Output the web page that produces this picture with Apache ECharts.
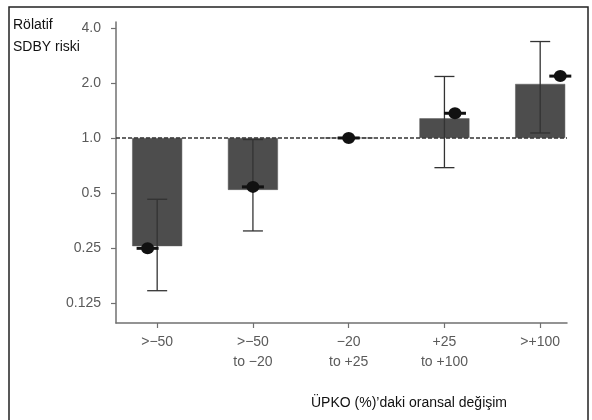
<!DOCTYPE html>
<html>
<head>
<meta charset="utf-8">
<script src="https://cdn.jsdelivr.net/npm/echarts@6/dist/echarts.min.js"></script>
<style>
html,body{margin:0;padding:0;background:#fff;}
#chart{width:592px;height:420px;}
</style>
</head>
<body>
<div id="chart"></div>
<script>
const categories = ['>−50', '>−50\nto −20', '−20\nto +25', '+25\nto +100', '>+100'];
const barValues = [0.256, 0.52, 1.0, 1.28, 1.975];
const markerValues = [0.249, 0.54, 1.0, 1.365, 2.18];
const markerShift = [-0.1, 0, 0, 0.11, 0.21];
const ciLow = [0.146, 0.31, null, 0.688, 1.065];
const ciHigh = [0.462, 0.98, null, 2.17, 3.37];
const yTickValues = [0.125, 0.25, 0.5, 1, 2, 4];
const yTickLabels = ['0.125', '0.25', '0.5', '1.0', '2.0', '4.0'];
const yTitle = 'Rölatif\nSDBY riski';
const xTitle = 'ÜPKO (%)’daki oransal değişim';

const idx = categories.map((c, i) => i);
const barData = barValues.map((v, i) => [i, v]);
const markerData = markerValues.map((v, i) => [i + markerShift[i], v]);
const ciData = [];
ciLow.forEach((lo, i) => { if (lo != null) ciData.push([i, lo, ciHigh[i]]); });

function yLabel(v) {
  let best = 0, bd = Infinity;
  yTickValues.forEach((t, i) => { const d = Math.abs(Math.log2(v) - Math.log2(t)); if (d < bd) { bd = d; best = i; } });
  return yTickLabels[best];
}

const chart = echarts.init(document.getElementById('chart'), null, {renderer: 'canvas'});
const labelFont = {color: '#5a5a5a', fontSize: 14, fontFamily: 'Liberation Sans, Arial, sans-serif'};
chart.setOption({
  animation: false,
  backgroundColor: '#fff',
  grid: {left: 116, right: 25, top: 22, bottom: 97, containLabel: false},
  xAxis: {
    type: 'value', min: -0.43, max: 4.28,
    splitLine: {show: false},
    axisLine: {show: true, onZero: false, lineStyle: {color: '#707070', width: 1.5}},
    axisTick: {show: true, length: 5, customValues: idx, lineStyle: {color: '#707070', width: 1.2}},
    axisLabel: Object.assign({
      customValues: idx, margin: 9, lineHeight: 20,
      formatter: v => categories[Math.round(v)]
    }, labelFont)
  },
  yAxis: {
    type: 'log', logBase: 2, min: 0.0972, max: 4.31,
    splitLine: {show: false},
    axisLine: {show: true, onZero: false, lineStyle: {color: '#707070', width: 1.5}},
    axisTick: {show: true, length: 5, customValues: yTickValues, lineStyle: {color: '#707070', width: 1.2}},
    axisLabel: Object.assign({customValues: yTickValues, margin: 15, formatter: yLabel}, labelFont)
  },
  series: [
    {
      type: 'bar', data: barData, barWidth: 50,
      itemStyle: {color: '#4d4d4d', borderColor: '#5a5a5a', borderWidth: 0.5},
      markLine: {
        silent: true, symbol: 'none', label: {show: false},
        lineStyle: {color: '#333', width: 1.5, type: [4, 2]},
        data: [{yAxis: 1}], z: 4
      },
      z: 2
    },
    {
      type: 'custom', data: ciData, z: 5,
      encode: {x: 0, y: [1, 2]},
      renderItem: function (params, api) {
        const x = api.value(0);
        const lo = api.coord([x, api.value(1)]);
        const hi = api.coord([x, api.value(2)]);
        const hw = 10;
        const st = {stroke: '#333', lineWidth: 1.3};
        return {
          type: 'group', children: [
            {type: 'line', shape: {x1: lo[0], y1: lo[1], x2: hi[0], y2: hi[1]}, style: st},
            {type: 'line', shape: {x1: lo[0] - hw, y1: lo[1], x2: lo[0] + hw, y2: lo[1]}, style: st},
            {type: 'line', shape: {x1: hi[0] - hw, y1: hi[1], x2: hi[0] + hw, y2: hi[1]}, style: st}
          ]
        };
      }
    },
    {
      type: 'scatter', data: markerData, z: 6,
      symbol: 'rect', symbolSize: [22, 3],
      itemStyle: {color: '#111', opacity: 1}
    },
    {
      type: 'scatter', data: markerData, z: 7,
      symbol: 'circle', symbolSize: [13, 12],
      itemStyle: {color: '#111', opacity: 1}
    }
  ],
  graphic: [
    {type: 'rect', left: 10, top: 8, shape: {width: 72, height: 84}, style: {fill: '#fff'}, z: 100},
    {type: 'text', left: 13, top: 14, z: 101,
      style: {text: yTitle, fill: '#111', fontSize: 14, lineHeight: 22, fontFamily: 'Liberation Sans, Arial, sans-serif'}},
    {type: 'text', x: 409, y: 403, z: 101,
      style: {text: xTitle, fill: '#111', fontSize: 14, align: 'center', verticalAlign: 'middle', fontFamily: 'Liberation Sans, Arial, sans-serif'}},
    {type: 'rect', shape: {x: 9, y: 7, width: 579, height: 430}, style: {fill: 'none', stroke: '#222', lineWidth: 1.5}, z: 102}
  ]
});
</script>
</body>
</html>
